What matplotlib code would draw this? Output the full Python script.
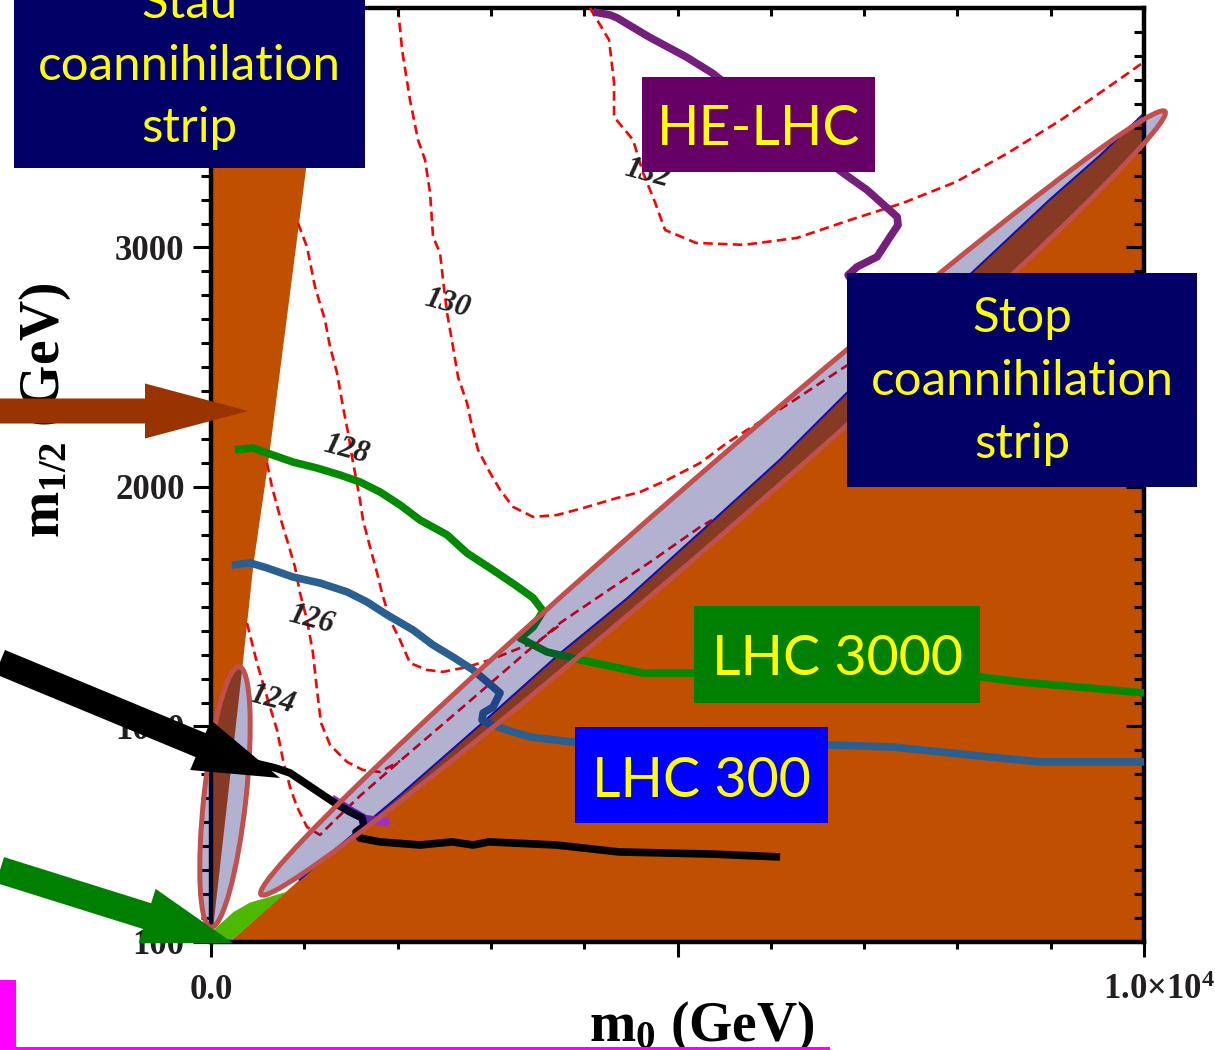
import matplotlib
matplotlib.use("Agg")
import matplotlib.pyplot as plt
import matplotlib.transforms as mtransforms
from matplotlib.patches import Ellipse, Rectangle, FancyArrow
from matplotlib.ticker import MultipleLocator, FixedLocator

plt.rcParams['mathtext.fontset'] = 'custom'
plt.rcParams['mathtext.rm'] = 'Liberation Serif:bold'
plt.rcParams['mathtext.it'] = 'Liberation Serif:bold:italic'
plt.rcParams['mathtext.bf'] = 'Liberation Serif:bold'

# ---- (m0, m1/2) plane, GeV ----
# stau LSP wedge: right edge m0 as a function of m1/2
stau_m12 = [100, 1280, 1680, 2110, 3320, 4000]
stau_m0 = [0, 340, 450, 610, 1010, 1230]

# stop LSP / no EWSB boundary
stop_m0 = [200, 950, 1280, 2030, 2880, 3740, 4460, 5240, 6100, 6820, 7390, 8170, 8990, 9530, 10000]
stop_m12 = [100, 360, 470, 715, 1005, 1305, 1535, 1810, 2115, 2395, 2615, 2900, 3200, 3385, 3560]

# b -> s gamma excluded corner
green_m0 = [0, 0, 240, 420, 600, 815, 200]
green_m12 = [100, 140, 225, 265, 285, 310, 100]

# Higgs mass contours
c124_m0 = [386, 493, 600, 708, 772, 847, 922, 1029, 1168, 1329, 1597, 2026, 2562, 3098, 3741, 4138, 4738, 5242, 5371]
c124_m12 = [1432, 1265, 1123, 985, 860, 747, 664, 580, 547, 609, 710, 856, 1035, 1215, 1432, 1537, 1695, 1833, 1862]
c126_m0 = [600, 654, 740, 825, 900, 954, 1029, 1093, 1136, 1179, 1276, 1458, 1629, 1812, 2026]
c126_m12 = [2100, 2000, 1875, 1766, 1666, 1557, 1445, 1307, 1152, 1015, 923, 852, 818, 810, 856]
c128_m0 = [933, 1029, 1115, 1222, 1276, 1351, 1415, 1469, 1512, 1597, 1629, 1704, 1780, 1833, 1919,
           2026, 2133, 2316, 2487, 2744, 2991, 3205, 3527, 3741]
c128_m12 = [3102, 3002, 2835, 2697, 2585, 2476, 2334, 2226, 2125, 1946, 1862, 1750, 1641, 1557, 1445,
            1361, 1265, 1236, 1228, 1248, 1278, 1311, 1361, 1424]
c130_m0 = [2005, 2048, 2133, 2219, 2294, 2348, 2380, 2455, 2487, 2530, 2594, 2648, 2744, 2798, 2862,
           2991, 3098, 3237, 3452, 3709, 3988, 4352, 4599, 4888, 5242, 5531, 5778, 6207, 6775, 7172]
c130_m12 = [4000, 3825, 3616, 3449, 3366, 3228, 3044, 2977, 2864, 2727, 2585, 2459, 2351, 2251, 2155,
            2059, 1988, 1917, 1875, 1883, 1912, 1954, 1979, 2029, 2100, 2184, 2246, 2351, 2497, 2593]
c132_m0 = [4062, 4266, 4320, 4320, 4524, 4631, 4749, 4867, 5199, 5714, 6282, 6850, 7418, 7986, 8544, 9112, 9680, 10000]
c132_m12 = [4000, 3867, 3687, 3545, 3449, 3311, 3199, 3073, 3019, 3011, 3040, 3115, 3186, 3274, 3395, 3533, 3687, 3775]
contour_labels = ['124', '126', '128', '130', '132']
label_m0 = [654, 1072, 1447, 2530, 4680]
label_m12 = [1110, 1445, 2155, 2764, 3310]

# collider reach
lhc3000_m0 = [257, 450, 600, 879, 1136, 1383, 1597, 1812, 2026, 2240, 2530, 2744, 3023, 3259, 3452, 3559,
              3452, 3312, 3602, 3956, 4631, 5167, 6850, 8243, 8672, 10000]
lhc3000_m12 = [2155, 2163, 2142, 2104, 2079, 2050, 2021, 1979, 1925, 1862, 1800, 1724, 1653, 1591, 1537, 1482,
               1415, 1369, 1311, 1278, 1223, 1223, 1215, 1207, 1186, 1140]
lhc300_m0 = [225, 418, 600, 879, 1168, 1458, 1672, 1887, 2165, 2380, 2594, 2809, 3023, 3098, 3023, 2916,
             2905, 2991, 3173, 3420, 3956, 5242, 6614, 7311, 8458, 8887, 10000]
lhc300_m12 = [1674, 1683, 1662, 1624, 1599, 1562, 1520, 1466, 1403, 1340, 1290, 1236, 1165, 1140, 1081, 1056,
              1027, 1010, 985, 956, 931, 923, 923, 914, 868, 852, 852]
helhc_m0 = [4095, 4277, 4352, 4695, 5092, 5370, 5885, 6775, 7032, 7354, 7364, 7278, 7139, 6924, 6828, 7010]
helhc_m12 = [3984, 3971, 3959, 3879, 3796, 3729, 3574, 3311, 3240, 3128, 3094, 3044, 2961, 2919, 2885, 2781]
black_m0 = [472, 686, 847, 1008, 1168, 1329, 1490, 1619, 1640, 1554, 1597, 1812, 2240, 2584, 2809, 2980,
            3698, 4374, 5381, 6100]
black_m12 = [847, 827, 806, 764, 722, 680, 643, 618, 584, 559, 534, 518, 505, 518, 505, 518,
             505, 476, 467, 455]
purple_m0 = [1330, 1490, 1651, 1865]
purple_m12 = [690, 650, 614, 601]

ORANGE = '#C04F00'
TXT = '#231F20'

fig = plt.figure(figsize=(12.15, 10.5), dpi=100)
ax = fig.add_axes([211 / 1215, 108 / 1050, 933 / 1215, 934 / 1050])
ax.set_xlim(0, 10000)
ax.set_ylim(100, 4000)

# excluded regions
ax.fill_betweenx(stau_m12, 0, stau_m0, color=ORANGE, lw=0, zorder=1)
ax.fill(stop_m0 + [10000], stop_m12 + [100], color=ORANGE, lw=0, zorder=1)
ax.fill(green_m0, green_m12, color='#4DB800', lw=0, zorder=1)
ax.plot(stop_m0[1:], stop_m12[1:], color='#1414C8', lw=1.5, zorder=2)

# Higgs mass contours
dash = dict(color='red', lw=1.9, dashes=(3.6, 2.0), zorder=3)
for xs, ys in [(c124_m0, c124_m12), (c126_m0, c126_m12), (c128_m0, c128_m12),
               (c130_m0, c130_m12), (c132_m0, c132_m12)]:
    ax.plot(xs, ys, **dash)
for s, x, y in zip(contour_labels, label_m0, label_m12):
    ax.text(x, y, s, ha='center', va='center', rotation=-15, fontsize=22,
            family='Liberation Serif', weight='bold', style='italic', color=TXT, zorder=4)

# reach curves
ax.plot(lhc3000_m0, lhc3000_m12, color='#008A00', lw=5.5, zorder=5, solid_capstyle='butt')
ax.plot(lhc300_m0, lhc300_m12, color='#2A5F92', lw=5.5, zorder=5, solid_capstyle='butt')
ax.plot(helhc_m0, helhc_m12, color='#761E7C', lw=5.5, zorder=5, solid_capstyle='butt')
ax.plot(purple_m0, purple_m12, color='#9B30C8', lw=6, zorder=5)
ax.plot(black_m0, black_m12, color='black', lw=5.5, zorder=6, solid_capstyle='butt')

# axes styling
for sp in ax.spines.values():
    sp.set_linewidth(3.2)
ax.xaxis.set_major_locator(FixedLocator([0, 5000, 10000]))
ax.xaxis.set_minor_locator(MultipleLocator(1000))
ax.set_xticklabels(['0.0', '', '1.0×10$^4$'])
ax.yaxis.set_major_locator(FixedLocator([100, 1000, 2000, 3000]))
ax.yaxis.set_minor_locator(MultipleLocator(100))
ax.set_yticklabels(['100', '1000', '2000', '3000'])
ax.tick_params(which='both', direction='out', width=2.2, colors='black', labelcolor=TXT,
               labelsize=25)
ax.tick_params(axis='x', which='major', length=11, pad=12)
ax.tick_params(axis='x', which='minor', length=5)
ax.tick_params(axis='y', which='major', length=13, pad=6)
ax.tick_params(axis='y', which='minor', length=7)
for lab in ax.get_xticklabels() + ax.get_yticklabels():
    lab.set_family('Liberation Serif')
    lab.set_weight('bold')
last = ax.get_xticklabels()[-1]
last.set_transform(last.get_transform() + mtransforms.ScaledTranslation(0.15, 0, fig.dpi_scale_trans))

axr = ax.twinx()
axr.set_ylim(ax.get_ylim())
axr.yaxis.set_major_locator(FixedLocator([1000, 2000, 3000]))
axr.yaxis.set_minor_locator(MultipleLocator(100))
axr.tick_params(which='both', direction='in', width=2.2, labelright=False)
axr.tick_params(which='major', length=13)
axr.tick_params(which='minor', length=7)
axt = ax.twiny()
axt.set_xlim(ax.get_xlim())
axt.xaxis.set_major_locator(FixedLocator([0, 5000, 10000]))
axt.xaxis.set_minor_locator(MultipleLocator(1000))
axt.tick_params(which='both', direction='in', width=2.2, length=6, labeltop=False)
for a in (axr, axt):
    for sp in a.spines.values():
        sp.set_visible(False)

ax.set_xlabel('m$_{0}$ (GeV)', family='Liberation Serif', weight='bold', fontsize=40,
              color='black', ha='center', va='top')
ax.xaxis.set_label_coords(0.526, -0.062)
ax.set_ylabel('m$_{1/2}$ (GeV)', family='Liberation Serif', weight='bold', fontsize=40,
              color='black', ha='center', va='center')
ax.yaxis.set_label_coords(-0.178, 0.570)

# overlay annotations, positioned in pixels from the top-left corner
pix = mtransforms.Affine2D().scale(1 / 100, -1 / 100).translate(0, 10.5) + fig.dpi_scale_trans
tint = (0.063, 0.063, 0.43, 0.32)
fig.add_artist(Ellipse((225, 797), 262, 42, angle=-83.8, transform=pix, facecolor=tint,
                       edgecolor='#C0504D', lw=3.6, zorder=5))
fig.add_artist(Ellipse((713, 503), 1196, 60, angle=-40.9, transform=pix, facecolor=tint,
                       edgecolor='#C0504D', lw=3.6, zorder=5))

fig.add_artist(FancyArrow(0, 411, 248, 0, width=25, head_width=55, head_length=103,
                          length_includes_head=True, transform=pix, color='#993300', lw=0, zorder=6))
fig.add_artist(FancyArrow(0, 662, 280, 116, width=26, head_width=54, head_length=86,
                          length_includes_head=True, transform=pix, color='black', lw=0, zorder=6))
fig.add_artist(FancyArrow(0, 870, 233, 73, width=27, head_width=57, head_length=90,
                          length_includes_head=True, transform=pix, color='#008000', lw=0, zorder=6))

def box(x0, y0, x1, y1, face, lines, size):
    fig.add_artist(Rectangle((x0, y0), x1 - x0, y1 - y0, transform=pix, facecolor=face,
                             edgecolor='none', zorder=7))
    for s, yb in lines:
        fig.text((x0 + x1) / 2, yb, s, transform=pix, ha='center', va='baseline',
                 fontsize=size, family='Lato', color='#FFFF00', zorder=8)

box(14, -5, 365, 168, '#000066', [('Stau', 18), ('coannihilation', 80), ('strip', 142)], 35.5)
box(847, 273, 1197, 487, '#000066', [('Stop', 332), ('coannihilation', 395), ('strip', 458)], 35.5)
box(642, 77, 875, 172, '#660066', [('HE-LHC', 145)], 40)
box(694, 606, 980, 703, '#008000', [('LHC 3000', 675)], 40)
box(575, 727, 828, 823, '#0000FF', [('LHC 300', 797)], 40)

fig.add_artist(Rectangle((0, 980), 16, 70, transform=pix, facecolor='#FF00FF', lw=0, zorder=7))
fig.add_artist(Rectangle((0, 1047), 830, 3, transform=pix, facecolor='#FF00FF', lw=0, zorder=7))

fig.savefig('out.png', dpi=100)
